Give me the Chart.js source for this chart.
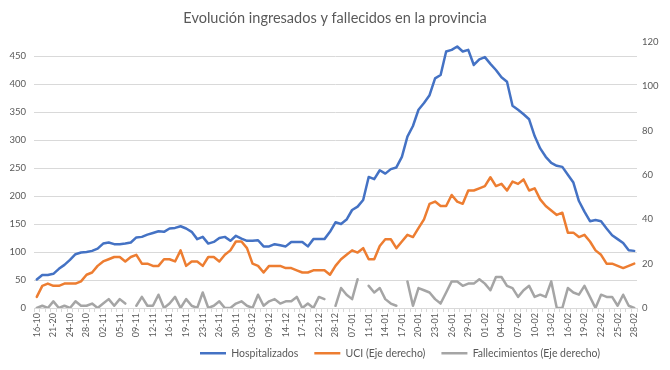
<!DOCTYPE html>
<html><head><meta charset="utf-8">
<script src="https://cdn.jsdelivr.net/npm/chart.js@4.4.0/dist/chart.umd.min.js"></script>
<style>html,body{margin:0;padding:0;background:#fff}#wrap{width:670px;height:370px}</style>
</head><body><div id="wrap"><canvas id="c" width="670" height="370"></canvas></div>
<script>
const titleText = "Evolución ingresados y fallecidos en la provincia";
const seriesNames = ["Hospitalizados", "UCI (Eje derecho)", "Fallecimientos (Eje derecho)"];
const tickLabels = ["16-10","21-20","24-10","28-10","02-11","05-11","09-11","12-11","16-11","19-11","23-11","26-11","30-11","03-12","09-12","14-12","17-12","22-12","28-12","07-01","11-01","14-01","17-01","20-01","23-01","26-01","29-01","01-02","04-02","07-02","10-02","13-02","16-02","19-02","22-02","25-02","28-02"];
const hospitalizados = [51,59,59,61,70,77,86,96,99,100,102,106,115,117,114,114,115,117,126,127,131,134,137,136,142,143,146,142,136,123,127,115,118,125,127,120,129,124,120,120,121,110,110,114,112,110,118,118,118,110,123,123,123,136,153,150,158,175,181,193,234,230,246,240,248,251,270,306,325,354,366,380,410,416,458,461,467,458,461,434,444,448,436,425,412,404,361,354,346,337,307,285,270,259,254,252,238,224,191,172,155,157,155,142,130,123,116,103,102];
const uci = [5,10,11,10,10,11,11,11,12,15,16,19,21,22,23,23,21,23,24,20,20,19,19,22,22,21,26,19,21,21,19,23,23,21,24,26,30,30,27,20,19,16,19,19,19,18,18,17,16,16,17,17,17,15,19,22,24,26,25,27,22,22,28,31,31,27,30,33,32,36,40,47,48,46,46,51,48,47,53,53,54,55,59,55,56,53,57,56,58,53,54,49,46,44,42,43,34,34,32,33,30,26,24,20,20,19,18,19,20];
const fallecimientos = [0,1,0,3,0,1,0,3,1,1,2,0,2,4,1,4,2,null,1,5,1,1,6,0,2,5,0,4,1,0,7,0,1,3,0,0,2,3,1,0,6,1,3,4,2,3,3,5,0,2,0,5,4,null,1,9,6,4,13,null,10,7,9,4,2,1,null,12,1,9,8,7,4,2,7,12,12,10,11,11,13,11,8,14,14,10,9,5,8,10,5,6,5,12,0,0,9,7,6,10,5,0,6,5,5,1,6,1,0];

const categories = [];
tickLabels.forEach((l, k) => { categories.push(l); if (k < tickLabels.length - 1) categories.push('', ''); });

const FONT = 'Lato';
const TXT = '#595959';
const GRID = '#d9d9d9';
Chart.defaults.font.family = FONT;
Chart.defaults.color = TXT;

function ds(label, data, color, axis) {
  return { label, data, yAxisID: axis, borderColor: color, backgroundColor: color,
    borderWidth: 2.5, pointRadius: 0, pointHoverRadius: 0, tension: 0, spanGaps: false,
    borderJoinStyle: 'round', borderCapStyle: 'round', fill: false };
}

const legendShift = {
  id: 'legendShift',
  afterLayout(chart) {
    const l = chart.legend;
    if (!l) return;
    l.top -= 8; l.bottom -= 8;
    l.left += 65; l.right += 65;
  }
};

new Chart(document.getElementById('c'), {
  type: 'line',
  data: {
    labels: categories,
    datasets: [
      ds(seriesNames[0], hospitalizados, '#4472C4', 'y'),
      ds(seriesNames[1], uci, '#ED7D31', 'y1'),
      ds(seriesNames[2], fallecimientos, '#A5A5A5', 'y1')
    ]
  },
  plugins: [legendShift],
  options: {
    responsive: false,
    animation: false,
    layout: { padding: { left: 0, right: 0, top: 0, bottom: 0 } },
    plugins: {
      tooltip: { enabled: false },
      title: { display: true, text: titleText, color: TXT, font: { family: FONT, size: 14.5, weight: 'normal' }, padding: { top: 10, bottom: 14.6 } },
      legend: { position: 'bottom', maxHeight: 30, labels: { usePointStyle: true, pointStyle: 'line', pointStyleWidth: 26, padding: 16, color: TXT, font: { family: FONT, size: 10.5 } } }
    },
    scales: {
      x: {
        type: 'category', offset: true,
        grid: { display: true, drawOnChartArea: false, drawTicks: true, tickLength: 4, color: GRID, offset: true },
        border: { display: true, color: GRID, width: 1 },
        ticks: { autoSkip: false, minRotation: 90, maxRotation: 90, padding: 1, color: TXT, font: { family: FONT, size: 9 } },
        afterFit: s => { s.height = 32; }
      },
      y: {
        position: 'left', min: 0, max: 475,
        grid: { color: GRID, drawTicks: false, lineWidth: 1 },
        border: { display: false },
        ticks: { stepSize: 50, padding: 8, color: TXT, font: { family: FONT, size: 9.5 } },
        afterBuildTicks: s => { s.ticks = s.ticks.filter(t => t.value % 50 === 0); },
        afterFit: s => { s.width = 34; }
      },
      y1: {
        position: 'right', min: 0, max: 120,
        grid: { display: false, drawTicks: false },
        border: { display: false },
        ticks: { stepSize: 20, padding: 5, color: TXT, font: { family: FONT, size: 9.5 } },
        afterFit: s => { s.width = 33; }
      }
    }
  }
});
</script>
</body></html>
